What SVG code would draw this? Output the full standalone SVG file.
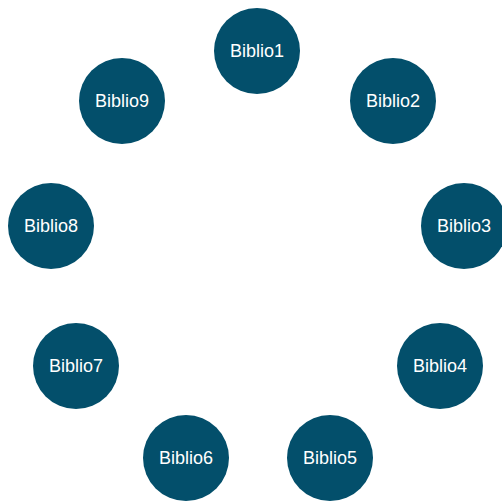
<svg xmlns="http://www.w3.org/2000/svg" width="502" height="502" viewBox="0 0 502 502">
<style>
.n circle{fill:#034f6b}
.n text{fill:#ffffff;font-family:"Liberation Sans",Arial,sans-serif;font-size:18px;text-anchor:middle;dominant-baseline:central}
</style>
<rect width="502" height="502" fill="#ffffff"/>
<g id="connectors"></g>
<g id="biblio1" class="n"><circle cx="257" cy="51" r="43"/><text x="257" y="51">Biblio1</text></g>
<g id="biblio2" class="n"><circle cx="393" cy="101" r="43"/><text x="393" y="101">Biblio2</text></g>
<g id="biblio3" class="n"><circle cx="464" cy="226" r="43"/><text x="464" y="226">Biblio3</text></g>
<g id="biblio4" class="n"><circle cx="440" cy="366" r="43"/><text x="440" y="366">Biblio4</text></g>
<g id="biblio5" class="n"><circle cx="330" cy="458" r="43"/><text x="330" y="458">Biblio5</text></g>
<g id="biblio6" class="n"><circle cx="186" cy="458" r="43"/><text x="186" y="458">Biblio6</text></g>
<g id="biblio7" class="n"><circle cx="76" cy="366" r="43"/><text x="76" y="366">Biblio7</text></g>
<g id="biblio8" class="n"><circle cx="51" cy="226" r="43"/><text x="51" y="226">Biblio8</text></g>
<g id="biblio9" class="n"><circle cx="122" cy="101" r="43"/><text x="122" y="101">Biblio9</text></g>
</svg>
